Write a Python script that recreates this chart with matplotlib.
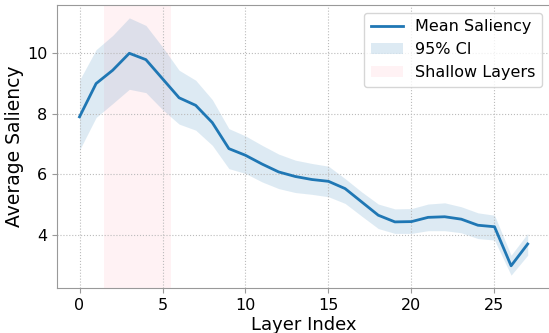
import numpy as np
import matplotlib
matplotlib.use("Agg")
import matplotlib.pyplot as plt

# ── Data ────────────────────────────────────────────────────
layers = list(range(28))
mean_saliency = [7.90, 9.00, 9.44, 10.00, 9.79, 9.16, 8.53, 8.28, 7.71, 6.85,
                 6.63, 6.34, 6.08, 5.93, 5.83, 5.77, 5.53, 5.09, 4.65, 4.43,
                 4.44, 4.58, 4.60, 4.52, 4.32, 4.27, 2.98, 3.70]
ci_upper = [9.11, 10.12, 10.59, 11.17, 10.92, 10.21, 9.44, 9.11, 8.47, 7.51,
            7.27, 6.96, 6.67, 6.47, 6.36, 6.27, 5.86, 5.42, 5.02, 4.86,
            4.87, 5.02, 5.06, 4.93, 4.73, 4.65, 3.33, 4.05]
ci_lower = [6.80, 7.88, 8.34, 8.81, 8.70, 8.14, 7.66, 7.46, 6.96, 6.19,
            6.03, 5.75, 5.53, 5.40, 5.34, 5.26, 5.04, 4.62, 4.21, 4.05,
            4.05, 4.14, 4.14, 4.07, 3.88, 3.83, 2.67, 3.33]
shallow_span = (1.5, 5.5)

# ── Plot ────────────────────────────────────────────────────
fig = plt.figure(figsize=(5.49, 3.33), dpi=100)
ax = fig.add_axes([0.104, 0.135, 0.898, 0.85])

shallow = ax.axvspan(*shallow_span, color="pink", alpha=0.2, lw=0, label="Shallow Layers")
ci = ax.fill_between(layers, ci_lower, ci_upper, color="#1f77b4", alpha=0.15, lw=0,
                     label="95% CI")
line, = ax.plot(layers, mean_saliency, color="#1f77b4", linewidth=2, label="Mean Saliency")

ax.set_xlabel("Layer Index", fontsize=13, labelpad=2)
ax.set_ylabel("Average Saliency", fontsize=13.5, labelpad=2)
ax.tick_params(labelsize=11.5, color="#999999")
ax.set_yticks([4, 6, 8, 10])
ax.grid(True, linestyle=":", color="#bbbbbb", linewidth=0.8)

for s in ax.spines.values():
    s.set_color("#999999")

ax.legend(handles=[line, ci, shallow], loc="upper right", fontsize=11.5)

plt.savefig("out.png", dpi=100)
